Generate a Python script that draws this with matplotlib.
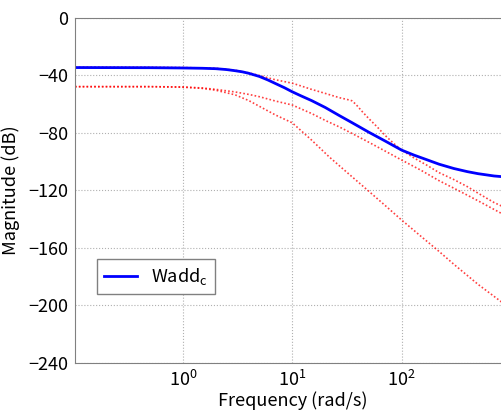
import numpy as np
import matplotlib
matplotlib.use('Agg')
import matplotlib.pyplot as plt
from matplotlib.ticker import FixedLocator, LogFormatterMathtext, NullLocator

plt.rcParams['font.family'] = ['Noto Sans CJK JP', 'DejaVu Sans']
plt.rcParams['axes.unicode_minus'] = True

# magnitudes (dB) at the listed frequencies (rad/s)
f_blue = [0.103, 0.5, 1, 1.5, 2, 2.5, 3, 3.5, 4, 5, 6, 7, 8.5, 10, 12, 15, 20, 27, 35, 50,
          70, 100, 130, 170, 220, 300, 400, 500, 700, 1000]
wadd_c = [-34.5, -34.6, -34.8, -35.0, -35.3, -35.9, -36.7, -37.5, -38.5, -40.7, -43.2, -45.6,
          -48.6, -51.4, -54.2, -57.5, -62.3, -68.0, -72.8, -79.5, -85.5, -92.0, -95.5, -98.7,
          -101.8, -104.8, -107.0, -108.4, -110.0, -111.0]

f_up = [0.103, 0.5, 1, 2, 3, 4, 5, 6, 7, 8.5, 10, 12, 15, 20, 27, 32, 35, 38, 44, 50, 60, 70,
        85, 100, 130, 170, 220, 300, 400, 500, 700, 1000]
red_upper = [-34.2, -34.3, -34.5, -35.0, -36.4, -38.2, -40.0, -41.7, -43.0, -44.3, -45.4, -47.3,
             -49.7, -52.5, -55.5, -56.8, -57.6, -60.0, -65.5, -70.0, -76.0, -81.5, -87.5, -92.0,
             -97.5, -102.5, -107.7, -112.5, -117.5, -122.0, -128.5, -134.0]

f_mid = [0.103, 0.5, 1, 1.5, 2, 3, 4, 5, 7, 10, 15, 20, 27, 35, 50, 70, 100, 150, 220, 300,
         500, 814, 1000]
red_mid = [-47.8, -47.8, -48.0, -48.7, -49.7, -51.5, -53.2, -54.8, -57.8, -60.6, -66.5, -71.3,
           -75.9, -80.3, -86.5, -92.5, -98.9, -106.0, -113.3, -118.5, -127.3, -136.0, -139.5]

f_low = [0.103, 0.5, 1, 1.5, 2, 3, 4, 5, 7, 10, 15, 21.8, 30, 50, 70, 100, 150, 221, 300, 500,
         814, 1000]
red_low = [-47.8, -47.8, -48.2, -49.0, -50.3, -53.5, -57.5, -61.5, -67.5, -73.0, -85.0, -96.8,
           -106.0, -120.6, -130.3, -140.7, -152.0, -162.7, -171.5, -185.5, -197.6, -203.0]

fig = plt.figure(figsize=(5.02, 4.12), dpi=100)
ax = fig.add_axes([0.1494, 0.1197, 0.8686, 0.8366])

dots = (0, (1, 1.3))
ax.semilogx(f_up, red_upper, color='red', linestyle=dots, linewidth=1.2, alpha=0.75)
ax.semilogx(f_mid, red_mid, color='red', linestyle=dots, linewidth=1.2, alpha=0.75)
ax.semilogx(f_low, red_low, color='red', linestyle=dots, linewidth=1.2, alpha=0.75)
ax.semilogx(f_blue, wadd_c, color='blue', linewidth=2, label='Wadd$_\\mathregular{c}$')

ax.set_xlim(0.103, 1000)
ax.set_ylim(-240, 0)
ax.set_yticks(np.arange(-240, 1, 40))
ax.xaxis.set_major_locator(FixedLocator([1, 10, 100]))
ax.xaxis.set_major_formatter(LogFormatterMathtext())
ax.xaxis.set_minor_locator(NullLocator())

ax.grid(True, color='#b0b0b0', linestyle=':', linewidth=0.8)
for s in ax.spines.values():
    s.set_color('#808080')
ax.tick_params(direction='in', length=0, labelsize=13, pad=5, colors='black')

ax.set_xlabel('Frequency (rad/s)', fontsize=13, labelpad=1)
ax.set_ylabel('Magnitude (dB)', fontsize=13, labelpad=6)

leg = ax.legend(loc='lower left', bbox_to_anchor=(0.05, 0.199), borderaxespad=0,
                fancybox=False, edgecolor='#808080', fontsize=13, handlelength=1.8,
                framealpha=1)
leg.get_frame().set_linewidth(1.0)

fig.savefig('out.png', dpi=100)
